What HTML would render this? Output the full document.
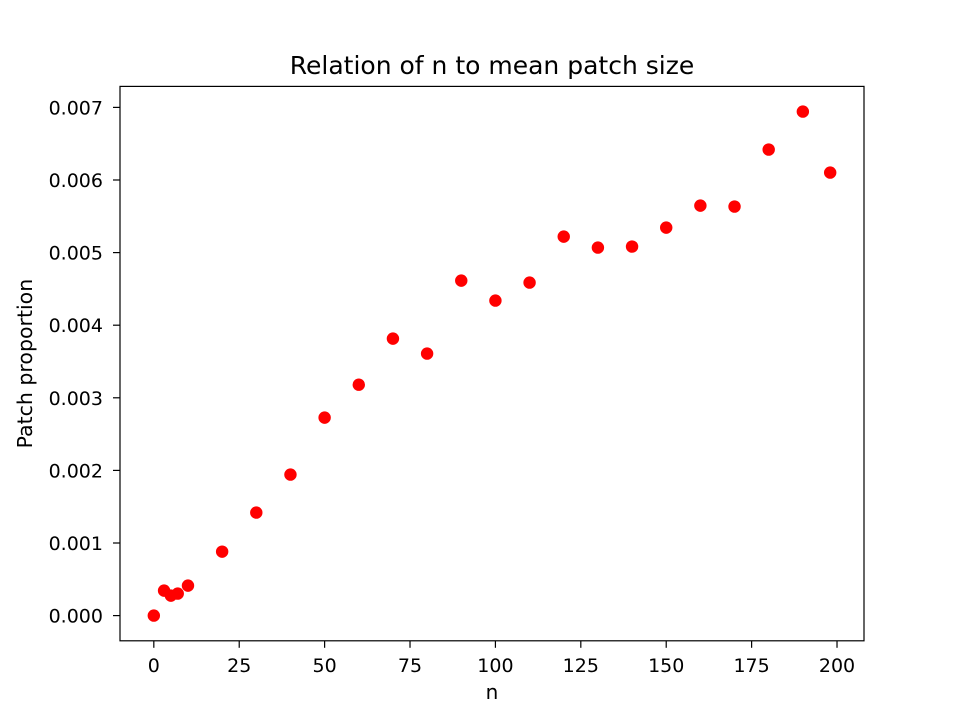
<!DOCTYPE html>
<html><head><meta charset="utf-8"><style>
body{margin:0;background:#fff}
text{font-family:"DejaVu Sans","Liberation Sans",sans-serif;fill:#000}
</style></head><body>
<svg id="chart" width="960" height="720" xmlns="http://www.w3.org/2000/svg">
<rect width="960" height="720" fill="#fff"/>
<g id="ticks"></g>
<g id="points"></g>
<rect x="120" y="86.4" width="744" height="554.4" fill="none" stroke="#000" stroke-width="1.2"/>
<text x="492" y="74" font-size="25" text-anchor="middle">Relation of n to mean patch size</text>
<text x="492" y="699" font-size="20" text-anchor="middle">n</text>
<text transform="translate(32,363.6) rotate(-90)" font-size="20.5" text-anchor="middle">Patch proportion</text>
</svg>
<script>
const nValues=[0,3,5,7,10,20,30,40,50,60,70,80,90,100,110,120,130,140,150,160,170,180,190,198];
const proportions=[0,0.000344,0.000275,0.000303,0.000413,0.000881,0.001419,0.001942,0.002727,0.00318,0.003815,0.003609,0.004614,0.004339,0.004587,0.00522,0.005069,0.005083,0.005344,0.005647,0.005634,0.006419,0.006942,0.006102];
const xTicks=[0,25,50,75,100,125,150,175,200];
const yTicks=[0,0.001,0.002,0.003,0.004,0.005,0.006,0.007];
const yTickLabels=["0.000","0.001","0.002","0.003","0.004","0.005","0.006","0.007"];
const L=120,R=864,T=86.4,B=640.8;
const xmin0=Math.min(...nValues),xmax0=Math.max(...nValues);
const ymin0=Math.min(...proportions),ymax0=Math.max(...proportions);
const xm=(xmax0-xmin0)*0.05,ym=(ymax0-ymin0)*0.05;
const xmin=xmin0-xm,xmax=xmax0+xm,ymin=ymin0-ym,ymax=ymax0+ym;
const sx=v=>L+(v-xmin)/(xmax-xmin)*(R-L);
const sy=v=>B-(v-ymin)/(ymax-ymin)*(B-T);
const NS="http://www.w3.org/2000/svg";
const tg=document.getElementById('ticks'),pg=document.getElementById('points');
function mk(tag,a,p){const e=document.createElementNS(NS,tag);for(const k in a)e.setAttribute(k,a[k]);p.appendChild(e);return e;}
xTicks.forEach(t=>{const x=sx(t);
const l=mk('line',{x1:x,x2:x,y1:B,y2:B+7,stroke:'#000','stroke-width':1.2},tg);


const tx=mk('text',{x:x,y:B+31,'font-size':19,'text-anchor':'middle'},tg);tx.textContent=t;

});
yTicks.forEach((t,i)=>{const y=sy(t);
const l=mk('line',{x1:L-7,x2:L,y1:y,y2:y,stroke:'#000','stroke-width':1.2},tg);


const tx=mk('text',{x:L-17,y:y+7,'font-size':19,'text-anchor':'end'},tg);tx.textContent=yTickLabels[i];

});
nValues.forEach((n,i)=>{const c=mk('circle',{cx:sx(n),cy:sy(proportions[i]),r:6.2,fill:'#ff0000'},pg);

});
</script>
</body></html>
